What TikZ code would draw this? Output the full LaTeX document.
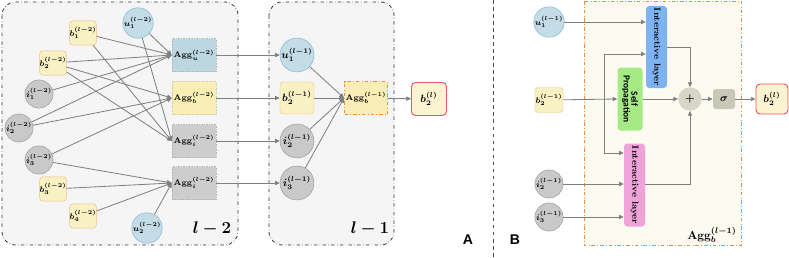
\documentclass[tikz,border=0pt]{standalone}
\usepackage{amsmath,bm}
\usepackage{fontspec}
\newfontfamily\carlito{Carlito}
\newfontfamily\arialish{Liberation Sans}
\usetikzlibrary{arrows.meta}
\definecolor{ublue}{HTML}{C3DCE5}
\definecolor{ubord}{HTML}{7FB3DA}
\definecolor{byel}{HTML}{F7F1C4}
\definecolor{bbord}{HTML}{F4BE86}
\definecolor{igray}{HTML}{C9C9C9}
\definecolor{ibord}{HTML}{9A9A9A}
\definecolor{aggu}{HTML}{BCD7E0}
\definecolor{aggb}{HTML}{F8EEB6}
\definecolor{aggi}{HTML}{CDCDCD}
\definecolor{arrgray}{HTML}{7F7F7F}
\definecolor{boxgray}{HTML}{F5F5F5}
\definecolor{aggline}{HTML}{F08A3C}
\definecolor{aggfill}{HTML}{FCFBF1}
\definecolor{outred}{HTML}{F0506A}
\definecolor{outfill}{HTML}{FBF4D2}
\definecolor{layblue}{HTML}{7DB3F2}
\definecolor{laygreen}{HTML}{A6EA86}
\definecolor{laypink}{HTML}{EFA3D9}
\definecolor{plusc}{HTML}{D6D6C6}
\definecolor{sigc}{HTML}{C8C8B6}
\tikzset{
  unode/.style={circle,draw=ubord,fill=ublue,inner sep=0pt,minimum size=#1},
  unode/.default=7.5mm,
  inode/.style={circle,draw=ibord,fill=igray,inner sep=0pt,minimum size=#1},
  inode/.default=7.5mm,
  bnode/.style={draw=bbord,fill=byel,rounded corners=1mm,inner sep=0pt,minimum width=7.8mm,minimum height=7.3mm},
  bbig/.style={bnode,minimum width=10.2mm,minimum height=9.6mm},
  aggbox/.style={draw=#1!70!gray,densely dotted,fill=#1,inner sep=0pt,minimum width=13.2mm,minimum height=9.9mm},
  outnode/.style={draw=outred,thick,fill=outfill,rounded corners=1.2mm,inner sep=0pt,minimum width=10.5mm,minimum height=9.9mm},
  layer/.style={fill=#1,rounded corners=1mm,rotate=-90,inner sep=0pt,minimum height=6.3mm,font=\fontsize{7.6}{8}\selectfont\bfseries},
  arr/.style={draw=arrgray,line width=0.7pt,-{Triangle[length=4pt,width=3.6pt]}},
  groupbox/.style={draw=black!80,dash dot,line width=0.7pt,fill=boxgray,rounded corners=4mm}
}
\begin{document}
\begin{tikzpicture}[x=0.3mm,y=-0.3mm]
\useasboundingbox (0,0) rectangle (789,258);
% panel A, layer l-2
\draw[groupbox] (2,2) rectangle (238,245);
\node at (212,229) {\Large$\bm{l-2}$};
\node[unode] (u1a) at (138,23) {\scriptsize$\bm{u_1^{(l-2)}}$};
\node[bnode] (b1a) at (83,33) {\scriptsize$\bm{b_1^{(l-2)}}$};
\node[bnode] (b2a) at (53,63) {\scriptsize$\bm{b_2^{(l-2)}}$};
\node[inode] (i1a) at (39,94) {\scriptsize$\bm{i_1^{(l-2)}}$};
\node[inode] (i2a) at (19,128) {\scriptsize$\bm{i_2^{(l-2)}}$};
\node[inode] (i3a) at (39,160) {\scriptsize$\bm{i_3^{(l-2)}}$};
\node[bnode] (b3a) at (53,189) {\scriptsize$\bm{b_3^{(l-2)}}$};
\node[bnode] (b4a) at (83,216) {\scriptsize$\bm{b_4^{(l-2)}}$};
\node[unode] (u2a) at (147,228) {\scriptsize$\bm{u_2^{(l-2)}}$};
\node[aggbox=aggu] (aggu) at (194,55) {\scriptsize\bfseries Agg$_{\bm{u}}^{\bm{(l-2)}}$};
\node[aggbox=aggb] (aggb) at (194,98) {\scriptsize\bfseries Agg$_{\bm{b}}^{\bm{(l-2)}}$};
\node[aggbox=aggi] (aggi1) at (194,141) {\scriptsize\bfseries Agg$_{\bm{i}}^{\bm{(l-2)}}$};
\node[aggbox=aggi] (aggi2) at (194,183) {\scriptsize\bfseries Agg$_{\bm{i}}^{\bm{(l-2)}}$};
\foreach \s in {b1a,b2a,i1a,i2a,u1a} \draw[arr] (\s) -- (aggu.west);
\foreach \s in {b2a,i2a,i3a} \draw[arr] (\s) -- (aggb.west);
\foreach \s in {b1a,b2a,u1a} \draw[arr] (\s) -- (aggi1.west);
\foreach \s in {i3a,b3a,b4a,u2a} \draw[arr] (\s) -- (aggi2.west);
% panel A, layer l-1
\draw[groupbox] (269,2) rectangle (394,245);
\node at (370,229) {\Large$\bm{l-1}$};
\node[unode=10.2mm] (u1b) at (297,55) {\small$\bm{u_1^{(l-1)}}$};
\node[bbig] (b2b) at (297,98) {\small$\bm{b_2^{(l-1)}}$};
\node[inode=10.2mm] (i2b) at (297,141) {\small$\bm{i_2^{(l-1)}}$};
\node[inode=10.2mm] (i3b) at (297,183) {\small$\bm{i_3^{(l-1)}}$};
\node[draw=aggline,dash dot,thick,fill=aggb,inner sep=0pt,minimum width=12.9mm,minimum height=9.9mm] (aggbb) at (366,98) {\scriptsize\bfseries Agg$_{\bm{b}}^{\bm{(l-1)}}$};
\node[outnode] (outa) at (429,99) {\small$\bm{b_2^{(l)}}$};
\draw[arr] (aggu) -- (u1b);
\draw[arr] (aggb) -- (b2b);
\draw[arr] (aggi1) -- (i2b);
\draw[arr] (aggi2) -- (i3b);
\foreach \s in {u1b,b2b,i2b,i3b} \draw[arr] (\s) -- (aggbb.west);
\draw[arr] (aggbb) -- (outa);
\node at (468,240) {\arialish\bfseries\large A};
% separator
\draw[black!70,dashed,line width=0.8pt] (493,0) -- (493,258);
\node at (515,240) {\arialish\bfseries\large B};
% panel B
\draw[draw=aggline,dash dot,line width=0.8pt,fill=aggfill] (584,1) rectangle (741,245);
\node at (712,235) {\normalsize\bfseries Agg$_{\bm{b}}^{\bm{(l-1)}}$};
\node[unode=7.8mm] (u1c) at (549,22) {\scriptsize$\bm{u_1^{(l-1)}}$};
\node[bnode,minimum width=8.4mm,minimum height=7.5mm] (b2c) at (549,100) {\scriptsize$\bm{b_2^{(l-1)}}$};
\node[inode=8mm] (i2c) at (549,184) {\scriptsize$\bm{i_2^{(l-1)}}$};
\node[inode=8mm] (i3c) at (549,217) {\scriptsize$\bm{i_3^{(l-1)}}$};
\node[layer=layblue,minimum width=24.6mm] (ilu) at (656.5,47) {Interactive layer};
\node[layer=laygreen,minimum width=18.9mm,minimum height=7.5mm,align=center,font=\carlito\footnotesize\bfseries] (selfp) at (630,99) {Self\\[-3pt]Propagation};
\node[layer=laypink,minimum width=24.9mm] (ili) at (634.5,185) {Interactive layer};
\node[circle,fill=plusc,inner sep=0pt,minimum size=7mm] (plus) at (690,99) {\small$\bm{+}$};
\node[fill=sigc,rounded corners=0.8mm,inner sep=0pt,minimum width=6.6mm,minimum height=6mm] (sig) at (724,99) {\small$\bm{\sigma}$};
\node[outnode,minimum width=9.6mm,minimum height=9mm] (outb) at (772,99) {\small$\bm{b_2^{(l)}}$};
\coordinate (split) at (604,100);
\draw[arr] (u1c) -- (u1c -| ilu.south);
\draw[arr] (b2c) -- (selfp.south);
\draw[arr] (split) |- (ilu.south |- 0,54);
\draw[arr] (split) |- (ili.south |- 0,153);
\draw[arr] (i2c) -- (i2c -| ili.south);
\draw[arr] (i3c) -- (i3c -| ili.south);
\draw[arr] (ilu.north |- 0,47) -| (plus.north);
\draw[arr] (selfp.north) -- (plus.west);
\draw[arr] (ili.north |- 0,184) -| (plus.south);
\draw[arr] (plus) -- (sig);
\draw[arr] (sig) -- (outb);
\end{tikzpicture}
\end{document}
